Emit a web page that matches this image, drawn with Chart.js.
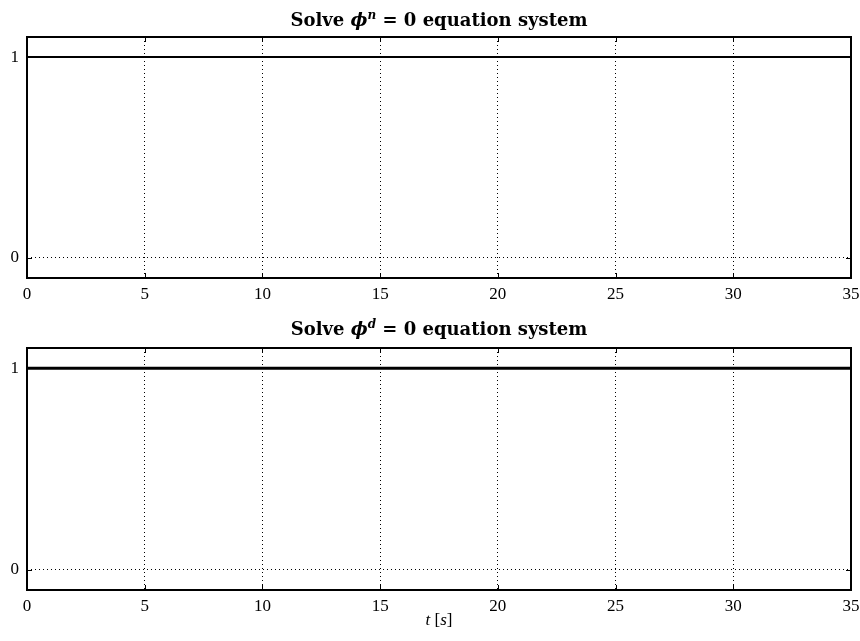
<!DOCTYPE html>
<html><head><meta charset="utf-8">
<script src="https://cdn.jsdelivr.net/npm/chart.js@4"></script>
<style>
html,body{margin:0;padding:0;background:#fff;width:860px;height:641px;overflow:hidden;font-family:"Liberation Serif",serif;}
.box{position:absolute;left:0;width:860px;}
.ttl{position:absolute;left:27px;width:824px;text-align:center;font-family:"DejaVu Serif",serif;font-weight:bold;font-size:18px;line-height:18px;color:#000;white-space:nowrap}
.ttl sup{font-size:12px;vertical-align:0;position:relative;top:-7px}
#xl{position:absolute;left:27px;width:824px;top:611px;text-align:center;font-size:17px;line-height:17px;color:#000}
</style></head><body>
<div class="box" style="top:0;height:310px"><canvas id="c1"></canvas></div>
<div class="box" style="top:310px;height:312px"><canvas id="c2"></canvas></div>
<div class="ttl" style="top:11px">Solve <i>ϕ<sup>n</sup></i> = 0 equation system</div>
<div class="ttl" style="top:320px">Solve <i>ϕ<sup>d</sup></i> = 0 equation system</div>
<div id="xl"><i>t</i> [<i>s</i>]</div>
<script>
// Data
const timeS = [0, 5, 10, 15, 20, 25, 30, 35];
const solveN = [1, 1, 1, 1, 1, 1, 1, 1];
const solveD = [1, 1, 1, 1, 1, 1, 1, 1];
const yTicks = [0, 1];
const xMin = 0, xMax = 35, xStep = 5;
const yMin = -0.1, yMax = 1.1;

const framePlugin = {
  id: 'frame',
  afterDraw(chart) {
    const {ctx, chartArea: a, scales} = chart;
    ctx.save();
    ctx.strokeStyle = '#000';
    ctx.lineWidth = 1;
    const tl = 5;
    scales.x.ticks.forEach(t => {
      const px = Math.round(scales.x.getPixelForValue(t.value)) + 0.5;
      ctx.beginPath();
      ctx.moveTo(px, a.bottom); ctx.lineTo(px, a.bottom - tl);
      ctx.moveTo(px, a.top); ctx.lineTo(px, a.top + tl);
      ctx.stroke();
    });
    scales.y.ticks.forEach(t => {
      const py = Math.round(scales.y.getPixelForValue(t.value)) + 0.5;
      ctx.beginPath();
      ctx.moveTo(a.left, py); ctx.lineTo(a.left + tl, py);
      ctx.moveTo(a.right, py); ctx.lineTo(a.right - tl, py);
      ctx.stroke();
    });
    ctx.lineWidth = 2;
    ctx.strokeRect(Math.round(a.left), Math.round(a.top), Math.round(a.right - a.left), Math.round(a.bottom - a.top));
    ctx.restore();
  }
};

const tickFont = {family: '"Liberation Serif", serif', size: 17};

function makeChart(id, series, lw, padTop) {
  return new Chart(document.getElementById(id), {
    type: 'line',
    data: {
      datasets: [{
        data: timeS.map((t, i) => ({x: t, y: series[i]})),
        borderColor: '#000', borderWidth: lw, pointRadius: 0, fill: false, tension: 0
      }]
    },
    options: {
      responsive: true, maintainAspectRatio: false, animation: false,
      layout: {padding: {top: padTop, right: 9, left: 0, bottom: 0}},
      plugins: {legend: {display: false}, title: {display: false}, tooltip: {enabled: false}},
      scales: {
        x: {
          type: 'linear', min: xMin, max: xMax,
          ticks: {stepSize: xStep, color: '#000', font: tickFont, padding: 6, maxRotation: 0, autoSkip: false},
          grid: {color: '#000', lineWidth: 1, drawTicks: false},
          border: {display: false, dash: [1, 3]},
          afterFit(s) { s.height = 32; s.paddingLeft = 0; s.paddingRight = 0; }
        },
        y: {
          type: 'linear', min: yMin, max: yMax,
          afterBuildTicks(s) { s.ticks = yTicks.map(v => ({value: v})); },
          ticks: {color: '#000', font: tickFont, padding: 8},
          grid: {color: '#000', lineWidth: 1, drawTicks: false},
          border: {display: false, dash: [1, 3]},
          afterFit(s) { s.width = 27; s.paddingTop = 0; s.paddingBottom = 0; }
        }
      }
    },
    plugins: [framePlugin]
  });
}
makeChart('c1', solveN, 2, 37);
makeChart('c2', solveD, 3, 38);
</script>
</body></html>
